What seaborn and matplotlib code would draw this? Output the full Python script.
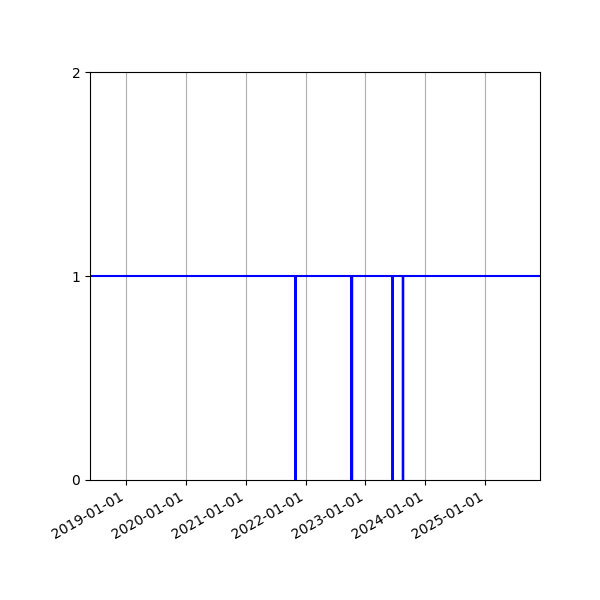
import numpy as np
import pandas as pd
import matplotlib
matplotlib.use('Agg')
import matplotlib.pyplot as plt
import matplotlib.dates as mdates
import seaborn as sns

# 数据
start_date = '2018-05-29'
end_date = '2025-11-29'
down_dates = ['2021-10-30', '2021-10-31', '2021-11-01', '2021-11-02',
              '2022-10-05', '2022-10-06', '2022-10-07', '2022-10-08', '2022-10-09', '2022-10-10', '2022-10-11',
              '2023-06-13', '2023-06-14', '2023-06-15', '2023-06-16',
              '2023-08-16', '2023-08-17', '2023-08-18']
year_ticks = ['2019-01-01', '2020-01-01', '2021-01-01', '2022-01-01',
              '2023-01-01', '2024-01-01', '2025-01-01']

days = pd.date_range(start_date, end_date, freq='D')
status = pd.Series(1, index=days)
status[pd.to_datetime(down_dates)] = 0
df = pd.DataFrame({'date': days, 'status': status.values})

fig, ax = plt.subplots(figsize=(6, 6), dpi=100)
sns.lineplot(data=df, x='date', y='status', ax=ax, color='blue',
             linewidth=1.5, drawstyle='steps-post')

ax.set_xlim(days[0], days[-1])
ax.set_ylim(0, 2)
ax.set_yticks([0, 1, 2])
ax.set_xticks(pd.to_datetime(year_ticks))
ax.xaxis.set_major_formatter(mdates.DateFormatter('%Y-%m-%d'))
ax.grid(axis='x', color='#b0b0b0')
ax.set_xlabel('')
ax.set_ylabel('')
fig.autofmt_xdate()
fig.subplots_adjust(left=0.15, right=0.9)

plt.savefig('out.png', dpi=100)
